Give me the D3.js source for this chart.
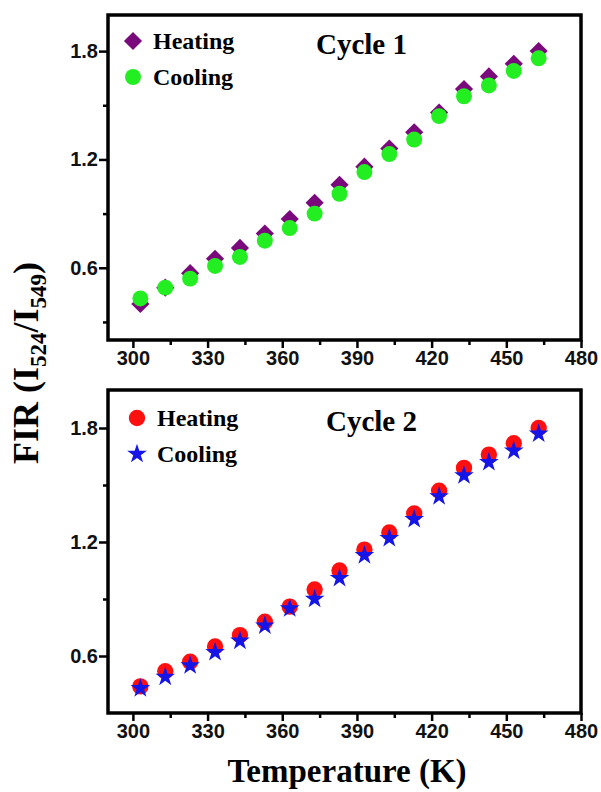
<!DOCTYPE html>
<html>
<head>
<meta charset="utf-8">
<script src="https://cdn.jsdelivr.net/npm/d3@7"></script>
<style>
  html, body { margin: 0; padding: 0; background: #fff; }
  svg { display: block; }
  .serif { font-family: "Liberation Serif", "Times New Roman", serif; font-weight: bold; }
</style>
</head>
<body>
<div id="chart"></div>
<script>
// temperatures (K)
const temps = [303, 313, 323, 333, 343, 353, 363, 373, 383, 393, 403, 413, 423, 433, 443, 453, 463];

// Cycle 1
const c1Heating = [0.40, 0.49, 0.57, 0.65, 0.71, 0.79, 0.87, 0.96, 1.06, 1.16, 1.26, 1.35, 1.46, 1.59, 1.66, 1.73, 1.80];
const c1Cooling = [0.43, 0.49, 0.54, 0.61, 0.66, 0.75, 0.82, 0.90, 1.01, 1.13, 1.23, 1.31, 1.44, 1.55, 1.61, 1.69, 1.76];

// Cycle 2
const c2Heating = [0.44, 0.52, 0.57, 0.65, 0.71, 0.78, 0.86, 0.95, 1.05, 1.16, 1.25, 1.35, 1.47, 1.59, 1.66, 1.72, 1.80];
const c2Cooling = [0.43, 0.49, 0.55, 0.62, 0.68, 0.76, 0.85, 0.90, 1.01, 1.13, 1.22, 1.32, 1.44, 1.55, 1.62, 1.68, 1.77];

const xTicks = [300, 330, 360, 390, 420, 450, 480];
const xMinor = [315, 345, 375, 405, 435, 465];
const yTicks = [0.6, 1.2, 1.8];
const yMinor = [0.3, 0.9, 1.5];

const width = 601, height = 792;
const svg = d3.select("#chart").append("svg")
  .attr("width", width).attr("height", height);

const left = 108, right = 581;

function styleLabels(a) {
  a.selectAll("text")
    .style("font-family", '"Liberation Sans", Arial, sans-serif')
    .style("font-weight", "bold")
    .style("font-size", "20px")
    .attr("fill", "#111");
}

// one panel: frame, axes, legend, title, points
function drawPanel(cfg) {
  const x = d3.scaleLinear().domain([290, 480]).range([left, right]);
  const y = d3.scaleLinear().domain(cfg.yDomain).range([cfg.bottom, cfg.top]);
  const g = svg.append("g");

  // minor ticks
  g.append("g")
    .attr("transform", `translate(0,${cfg.bottom})`)
    .call(d3.axisBottom(x).tickValues(xMinor).tickSize(5).tickFormat(""))
    .call(a => a.select(".domain").remove())
    .call(a => a.selectAll("line").attr("stroke-width", 2.5));
  g.append("g")
    .attr("transform", `translate(${left},0)`)
    .call(d3.axisLeft(y).tickValues(yMinor.filter(v => v > cfg.yDomain[0])).tickSize(5).tickFormat(""))
    .call(a => a.select(".domain").remove())
    .call(a => a.selectAll("line").attr("stroke-width", 2.5));

  // major ticks
  g.append("g")
    .attr("transform", `translate(0,${cfg.bottom})`)
    .call(d3.axisBottom(x).tickValues(xTicks).tickSize(8).tickPadding(3).tickFormat(d3.format("d")))
    .call(a => a.select(".domain").remove())
    .call(a => a.selectAll("line").attr("stroke-width", 2.5))
    .call(styleLabels);
  g.append("g")
    .attr("transform", `translate(${left},0)`)
    .call(d3.axisLeft(y).tickValues(yTicks).tickSize(9).tickPadding(1).tickFormat(d3.format(".1f")))
    .call(a => a.select(".domain").remove())
    .call(a => a.selectAll("line").attr("stroke-width", 2.5))
    .call(styleLabels);

  // frame
  g.append("rect")
    .attr("x", left).attr("y", cfg.top)
    .attr("width", right - left).attr("height", cfg.bottom - cfg.top)
    .attr("fill", "none").attr("stroke", "#000").attr("stroke-width", 3.5);

  // points
  const sym = (s) => d3.symbol().type(s.type).size(s.size)();
  g.selectAll(".heat").data(temps).enter().append("path")
    .attr("d", sym(cfg.heat))
    .attr("transform", (d, i) => `translate(${x(d)},${y(cfg.heatVals[i])}) rotate(${cfg.heat.rot || 0})`)
    .attr("fill", cfg.heat.color);
  g.selectAll(".cool").data(temps).enter().append("path")
    .attr("d", sym(cfg.cool))
    .attr("transform", (d, i) => `translate(${x(d)},${y(cfg.coolVals[i])}) rotate(${cfg.cool.rot || 0})`)
    .attr("fill", cfg.cool.color);

  // legend
  const lg = [
    { s: cfg.heat, label: "Heating", dy: 0 },
    { s: cfg.cool, label: "Cooling", dy: 36 }
  ];
  lg.forEach(l => {
    g.append("path")
      .attr("d", sym(l.s))
      .attr("transform", `translate(${cfg.legX},${cfg.legY + l.dy}) rotate(${l.s.rot || 0})`)
      .attr("fill", l.s.color);
    g.append("text")
      .attr("class", "serif")
      .attr("x", cfg.legX + 20).attr("y", cfg.legY + l.dy + 8)
      .attr("font-size", 24)
      .text(l.label);
  });

  g.append("text")
    .attr("class", "serif")
    .attr("x", cfg.titleX).attr("y", cfg.titleY)
    .attr("font-size", 29)
    .text(cfg.title);
}

drawPanel({
  top: 15, bottom: 340, yDomain: [0.2, 2.0],
  heatVals: c1Heating, coolVals: c1Cooling,
  heat: { type: d3.symbolSquare, size: 165, rot: 45, color: "#7a0a7c" },
  cool: { type: d3.symbolCircle, size: 200, color: "#22ee22" },
  legX: 133, legY: 41, title: "Cycle 1", titleX: 316, titleY: 54
});

drawPanel({
  top: 390, bottom: 713, yDomain: [0.3, 2.0],
  heatVals: c2Heating, coolVals: c2Cooling,
  heat: { type: d3.symbolCircle, size: 210, color: "#ff1010" },
  cool: { type: d3.symbolStar, size: 120, color: "#1515e8" },
  legX: 137, legY: 418, title: "Cycle 2", titleX: 326, titleY: 431
});

// axis titles
svg.append("text")
  .attr("class", "serif")
  .attr("x", 347).attr("y", 782)
  .attr("text-anchor", "middle")
  .attr("font-size", 33)
  .text("Temperature (K)");

const yt = svg.append("text")
  .attr("class", "serif")
  .attr("transform", "translate(38,363) rotate(-90)")
  .attr("text-anchor", "middle")
  .attr("font-size", 36);
yt.append("tspan").text("FIR (I");
yt.append("tspan").attr("font-size", 23).attr("dy", 8).text("524");
yt.append("tspan").attr("dy", -8).text("/I");
yt.append("tspan").attr("font-size", 23).attr("dy", 8).text("549");
yt.append("tspan").attr("dy", -8).text(")");
</script>
</body>
</html>
